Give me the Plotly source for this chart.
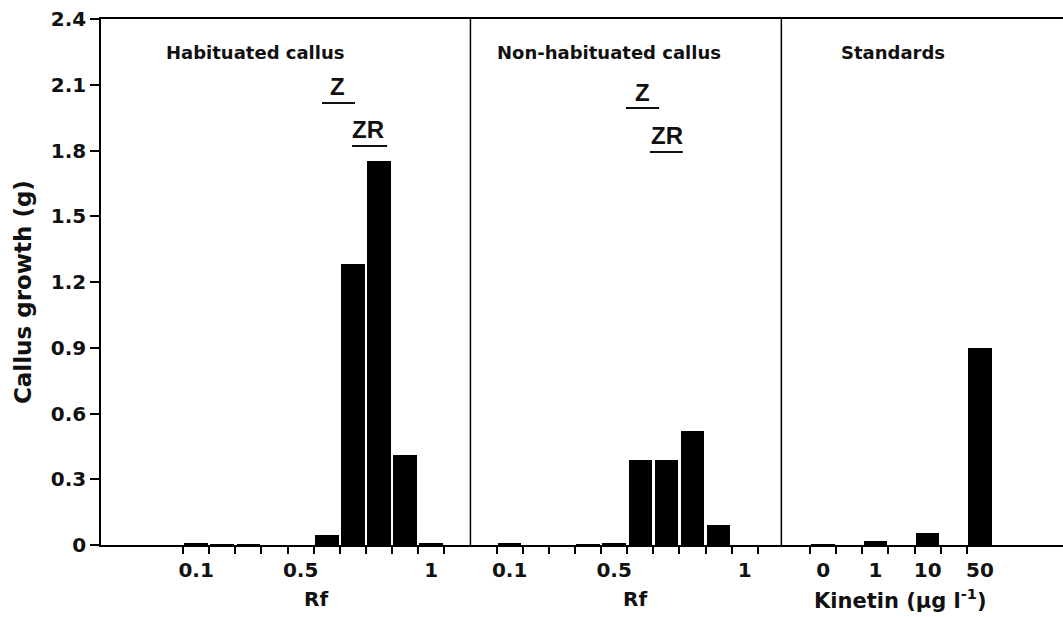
import plotly.graph_objects as go

# Rf fractions of the chromatogram (10 zones) and callus growth bioassay results
rf_zones = [0.1, 0.2, 0.3, 0.4, 0.5, 0.6, 0.7, 0.8, 0.9, 1.0]
rf_labelled = [0.1, 0.5, 1.0]
rf_label_text = ["0.1", "0.5", "1"]

habituated_growth = [0.007, 0.003, 0.003, 0.0, 0.0, 0.045, 1.28, 1.75, 0.41, 0.006]
non_habituated_growth = [0.005, 0.0, 0.0, 0.004, 0.006, 0.39, 0.39, 0.52, 0.09, 0.0]

kinetin_doses = ["0", "1", "10", "50"]
kinetin_growth = [0.004, 0.02, 0.053, 0.90]

y_ticks = [0, 0.3, 0.6, 0.9, 1.2, 1.5, 1.8, 2.1, 2.4]
y_tick_text = ["0", "0.3", "0.6", "0.9", "1.2", "1.5", "1.8", "2.1", "2.4"]

# slot layout on a shared x axis, in units of one Rf zone
HAB_START = 0
NONHAB_START = 12
STD_START = 24
STD_STEP = 2
DIVIDERS = [11, 22.9]

INK = "#111111"
FONT = "DejaVu Sans"


def zone_centres(start):
    return [start + i + 0.5 for i in range(len(rf_zones))]


hab_x = zone_centres(HAB_START)
nonhab_x = zone_centres(NONHAB_START)
std_x = [STD_START + STD_STEP * j + 0.5 for j in range(len(kinetin_doses))]

fig = go.Figure()
bar_style = dict(marker=dict(color="black", line=dict(width=0)), width=0.9, showlegend=False)
fig.add_trace(go.Bar(x=hab_x, y=habituated_growth, name="Habituated callus", **bar_style))
fig.add_trace(go.Bar(x=nonhab_x, y=non_habituated_growth, name="Non-habituated callus", **bar_style))
fig.add_trace(go.Bar(x=std_x, y=kinetin_growth, name="Standards", **bar_style))

# tick labels: labelled Rf zones in both chromatogram panels, then kinetin doses
label_vals, label_text = [], []
for start in (HAB_START, NONHAB_START):
    for rf, txt in zip(rf_labelled, rf_label_text):
        idx = rf_zones.index(rf)
        label_vals.append(start + idx + 0.5)
        label_text.append(txt)
label_vals += std_x
label_text += kinetin_doses

# tick marks at zone boundaries
boundaries = list(range(HAB_START, HAB_START + len(rf_zones) + 1))
boundaries += list(range(NONHAB_START, NONHAB_START + len(rf_zones) + 1))
for j in range(len(kinetin_doses)):
    boundaries += [STD_START + STD_STEP * j, STD_START + STD_STEP * j + 1]
boundaries = sorted(set(boundaries[:-1]))

tick_font = dict(family=FONT, size=20, color=INK, weight="bold")

fig.update_layout(
    width=1063,
    height=617,
    autosize=False,
    margin=dict(l=101, r=0, t=19, b=72),
    paper_bgcolor="white",
    plot_bgcolor="white",
    bargap=0,
    xaxis=dict(
        range=[-3.14, 33.68],
        showline=True,
        linecolor="black",
        linewidth=1.5,
        mirror=True,
        showgrid=False,
        zeroline=False,
        tickmode="array",
        tickvals=label_vals,
        ticktext=label_text,
        ticks="outside",
        ticklen=6,
        tickcolor="rgba(0,0,0,0)",
        tickfont=tick_font,
        minor=dict(
            tickmode="array",
            tickvals=boundaries,
            ticks="outside",
            ticklen=7,
            tickwidth=1.5,
            tickcolor="black",
            showgrid=False,
        ),
    ),
    yaxis=dict(
        range=[0, 2.4],
        showline=True,
        linecolor="black",
        linewidth=1.5,
        showgrid=False,
        zeroline=False,
        tickmode="array",
        tickvals=y_ticks,
        ticktext=y_tick_text,
        ticks="outside",
        ticklen=9,
        tickwidth=1.5,
        tickcolor="black",
        tickfont=tick_font,
    ),
)

# panel separators
for xd in DIVIDERS:
    fig.add_shape(type="line", xref="x", yref="y", x0=xd, x1=xd, y0=0, y1=2.4,
                  line=dict(color="black", width=1.5))

panel_font = dict(family=FONT, size=18, color=INK, weight="bold")
for txt, xc in [("Habituated callus", 2.76), ("Non-habituated callus", 16.3), ("Standards", 27.17)]:
    fig.add_annotation(text=txt, x=xc, y=2.245, xref="x", yref="y", showarrow=False,
                       font=panel_font, xanchor="center", yanchor="middle")

# cytokinin standard positions (zeatin, zeatin riboside) with their marker lines
marker_font = dict(family="Liberation Sans", size=24, color=INK, weight="bold")
markers = [
    ("Z", 5.93, 2.09, 5.32, 6.58, 2.017),
    ("ZR", 7.08, 1.895, 6.47, 7.81, 1.82),
    ("Z", 17.57, 2.065, 16.95, 18.22, 1.994),
    ("ZR", 18.52, 1.868, 17.87, 19.13, 1.793),
]
for txt, xc, yc, ux0, ux1, uy in markers:
    fig.add_annotation(text=txt, x=xc, y=yc, xref="x", yref="y", showarrow=False,
                       font=marker_font, xanchor="center", yanchor="middle")
    fig.add_shape(type="line", xref="x", yref="y", x0=ux0, x1=ux1, y0=uy, y1=uy,
                  line=dict(color=INK, width=2))

axis_title_font = dict(family=FONT, size=20, color=INK, weight="bold")
for txt, xc, size in [("Rf", 5.1, 20), ("Rf", 17.3, 20), ("Kinetin (µg l<sup>-1</sup>)", 27.45, 21)]:
    fig.add_annotation(text=txt, x=xc, y=-0.103, xref="x", yref="paper", showarrow=False,
                       font=dict(axis_title_font, size=size), xanchor="center", yanchor="middle")

fig.add_annotation(text="Callus growth (g)", textangle=-90, x=-0.081, y=0.481,
                   xref="paper", yref="paper", showarrow=False,
                   font=dict(family=FONT, size=23, color=INK, weight="bold"),
                   xanchor="center", yanchor="middle")

fig.write_html("out.html")
